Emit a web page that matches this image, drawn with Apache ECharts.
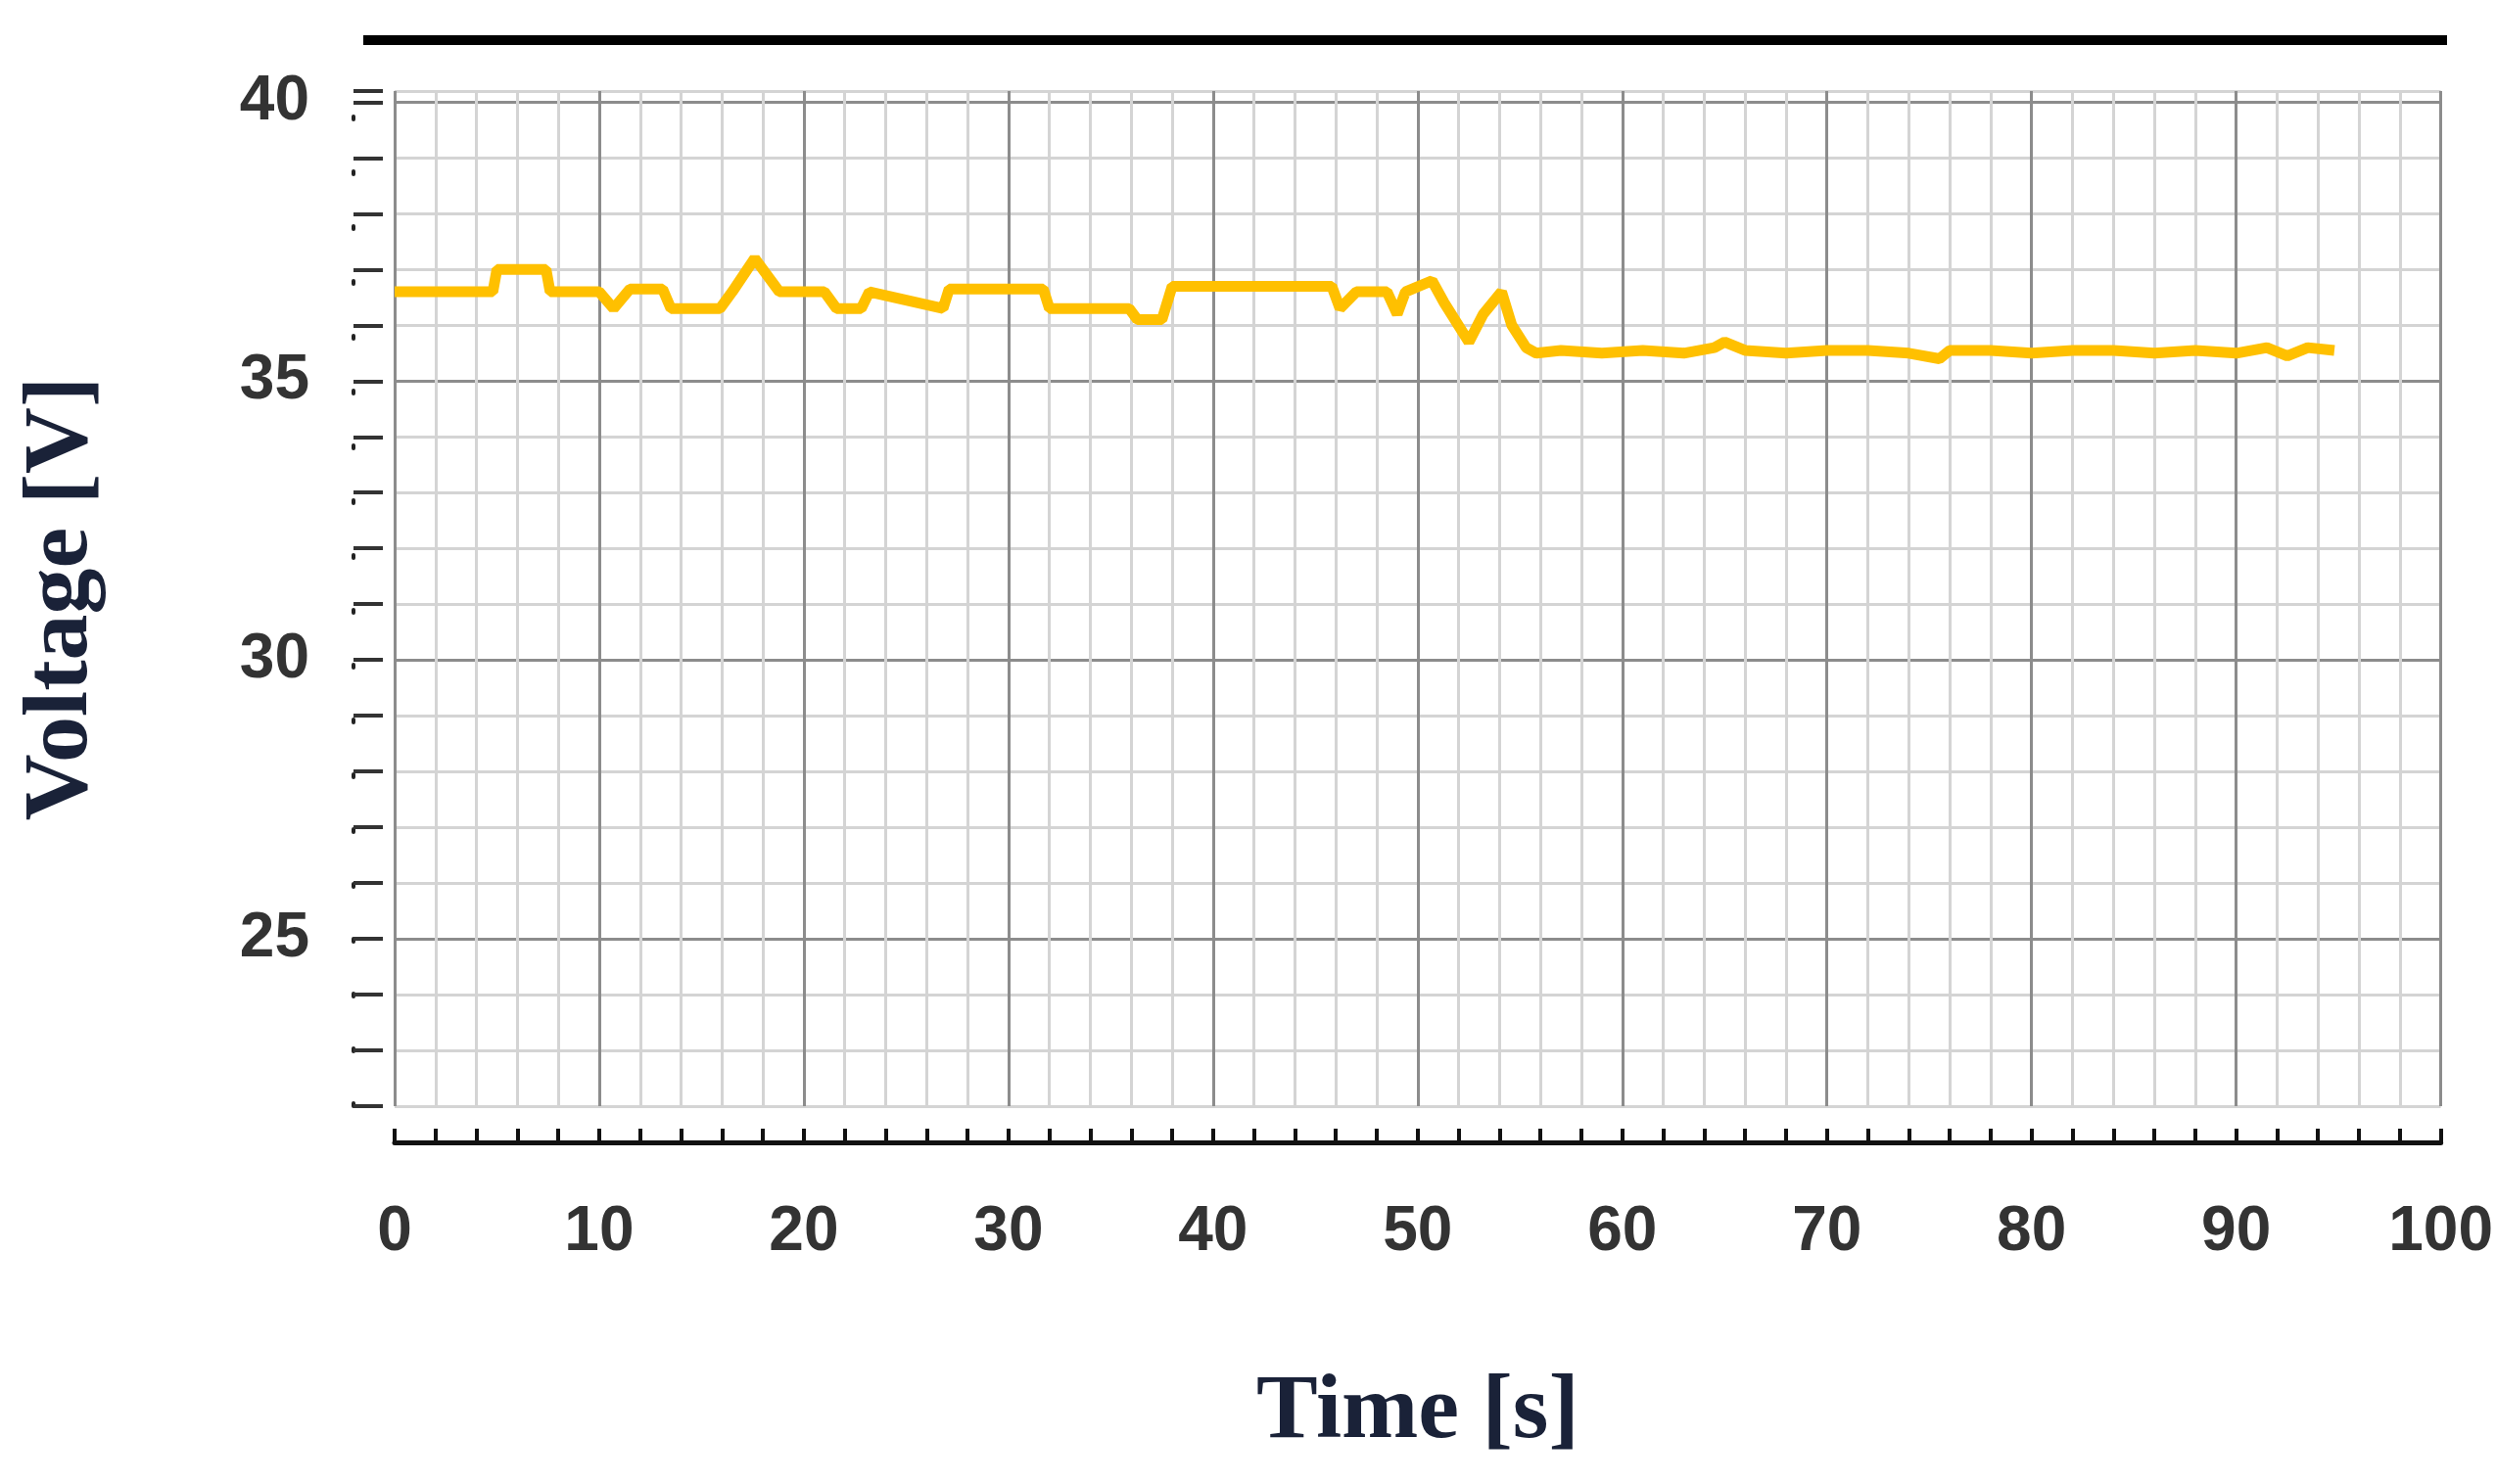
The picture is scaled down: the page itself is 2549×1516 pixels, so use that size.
<!DOCTYPE html>
<html><head><meta charset="utf-8">
<script src="https://cdn.jsdelivr.net/npm/echarts@6/dist/echarts.min.js"></script>
<style>html,body{margin:0;padding:0;background:#fff}#c{width:2549px;height:1516px}</style>
</head><body><div id="c"></div>
<script>
const timeS = [0,4.8,5.0,7.4,7.6,10.0,10.7,11.5,13.1,13.5,15.9,16.5,17.6,18.8,21.0,21.6,22.8,23.2,26.8,27.1,31.7,32.0,35.9,36.3,37.5,38.0,45.8,46.2,47.0,48.5,49.0,49.4,50.7,51.3,52.5,53.2,54.1,54.6,55.3,55.8,57,59,61,63,64.5,65,66,68,70,72,74,75.5,76,78,80,82,84,86,88,90,91.5,92.5,93.5,94.8];
const voltage = [36.6,36.6,37.0,37.0,36.6,36.6,36.3,36.65,36.65,36.3,36.3,36.6,37.2,36.6,36.6,36.3,36.3,36.6,36.3,36.65,36.65,36.3,36.3,36.1,36.1,36.7,36.7,36.3,36.6,36.6,36.2,36.6,36.8,36.4,35.7,36.2,36.6,36.0,35.6,35.5,35.55,35.5,35.55,35.5,35.6,35.7,35.55,35.5,35.55,35.55,35.5,35.4,35.55,35.55,35.5,35.55,35.55,35.5,35.55,35.5,35.6,35.45,35.6,35.55];
const xTickLabels = [0,10,20,30,40,50,60,70,80,90,100];
const yTickLabels = [25,30,35,40];

const chart = echarts.init(document.getElementById('c'));
const minor = '#d4d4d4', major = '#8c8c8c';
chart.setOption({
  animation:false,
  grid:{left:403,right:53,top:93,bottom:386},
  graphic:[{type:'line',shape:{x1:371,y1:41,x2:2499,y2:41},style:{stroke:'#000',lineWidth:10}}],
  xAxis:{type:'value',min:0,max:100,interval:2,offset:37,
    name:'Time [s]',nameLocation:'middle',nameGap:230,
    nameTextStyle:{fontFamily:'Liberation Serif',fontWeight:'bold',fontSize:94,color:'#1a2238'},
    axisLine:{show:true,onZero:false,lineStyle:{color:'#111',width:5}},
    axisTick:{show:true,inside:true,length:14,lineStyle:{color:'#111',width:4}},
    axisLabel:{margin:60,fontFamily:'Liberation Sans',fontWeight:'bold',fontSize:64,color:'#333',
      formatter:v=>xTickLabels.includes(v)?String(v):''},
    splitLine:{show:true,lineStyle:{color:[major,minor,minor,minor,minor],width:3}}},
  yAxis:{type:'value',min:22,max:40.2,interval:1,offset:42,
    name:'Voltage [V]',nameLocation:'middle',nameGap:250,nameRotate:90,
    nameTextStyle:{fontFamily:'Liberation Serif',fontWeight:'bold',fontSize:94,color:'#1a2238'},
    axisLine:{show:true,onZero:false,lineStyle:{color:'#222',width:4,type:[3,53]}},
    axisTick:{show:true,inside:true,length:30,lineStyle:{color:'#333',width:4},
      interval:(i,v)=>yTickLabels.includes(v)},
    axisLabel:{margin:45,fontFamily:'Liberation Sans',fontWeight:'bold',fontSize:64,color:'#333',
      formatter:v=>yTickLabels.includes(v)?String(v):''},
    splitLine:{show:true,lineStyle:{color:[minor,minor,minor,major,minor],width:3}}},
  series:[{type:'line',data:timeS.map((t,i)=>[t,voltage[i]]),showSymbol:false,
    lineStyle:{color:'#FFC000',width:11},itemStyle:{color:'#FFC000'}}]
});
</script></body></html>
